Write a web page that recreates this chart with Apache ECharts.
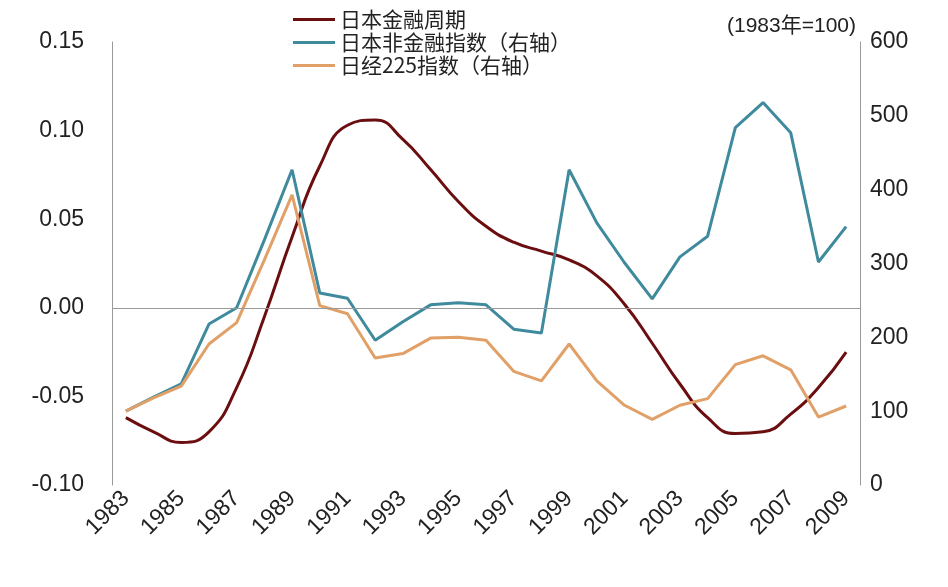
<!DOCTYPE html><html><head><meta charset="utf-8"><script src="https://cdn.jsdelivr.net/npm/echarts@6/dist/echarts.min.js"></script></head><body style="margin:0"><div id="c" style="width:948px;height:587px"></div><script>
const years=[];for(let y=1983;y<=2009;y++)years.push(String(y));
const finCycle=[-0.062,-0.070,-0.076,-0.070,-0.045,-0.005,0.040,0.080,0.103,0.106,0.095,0.078,0.060,0.046,0.037,0.032,0.027,0.018,0.002,-0.020,-0.043,-0.062,-0.071,-0.070,-0.060,-0.045,-0.025];
const nonFin=[100,119,137,218,240,332,427,260,253,196,221,244,247,244,211,206,427,355,301,252,309,337,484,518,477,302,350];
const nikkei=[100,118,134,191,220,305,393,243,232,172,178,199,200,196,154,141,191,141,108,89,108,117,163,175,156,92,107];
const names=['日本金融周期','日本非金融指数（右轴）','日经225指数（右轴）'];
const ft={fontFamily:'Liberation Sans, Noto Sans CJK SC',fontSize:23,color:'#222'};
const c=echarts.init(document.getElementById('c'));
c.setOption({animation:false,
grid:{left:112,right:88,top:42,bottom:102},
legend:{orient:'vertical',left:288,top:4,itemGap:2,itemWidth:42,itemHeight:3,icon:'rect',textStyle:{...ft,fontFamily:'Noto Sans CJK SC',fontSize:21},data:names},
graphic:[{type:'text',right:92,top:16,style:{text:'(1983年=100)',font:'21px "Liberation Sans","Noto Sans CJK SC"',fill:'#222'}}],
xAxis:[{type:'category',data:years,boundaryGap:true,position:'bottom',axisLine:{show:false},axisTick:{show:false},axisLabel:{...ft,interval:1,rotate:45,margin:10}}],
yAxis:[{type:'value',min:-0.1,max:0.15,interval:0.05,axisLine:{show:true,lineStyle:{color:'#999'}},splitLine:{show:false},axisLabel:{...ft,margin:28,formatter:v=>v.toFixed(2)}},
{type:'value',min:0,max:600,interval:100,axisLine:{show:true,lineStyle:{color:'#999'}},splitLine:{show:false},axisLabel:{...ft,margin:10}}],
series:[{name:names[0],type:'line',data:finCycle,smooth:0.5,symbol:'none',lineStyle:{width:3,color:'#6B0E10'},itemStyle:{color:'#6B0E10'},z:3,
markLine:{silent:true,symbol:'none',label:{show:false},lineStyle:{color:'#999',width:1,type:'solid'},data:[{yAxis:0}]}},
{name:names[1],type:'line',yAxisIndex:1,data:nonFin,symbol:'none',lineStyle:{width:3,color:'#3F8A9C'},itemStyle:{color:'#3F8A9C'}},
{name:names[2],type:'line',yAxisIndex:1,data:nikkei,symbol:'none',lineStyle:{width:3,color:'#E0A068'},itemStyle:{color:'#E0A068'}}]});
</script></body></html>
